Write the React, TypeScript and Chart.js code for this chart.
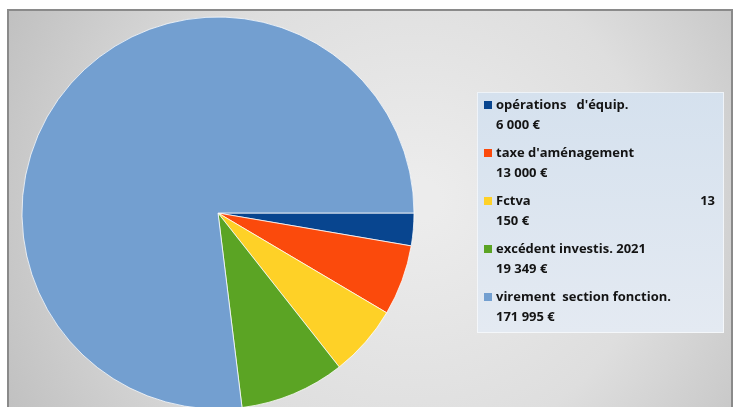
import React, { useEffect, useRef } from "react";
import { Chart, registerables } from "chart.js";

Chart.register(...registerables);

const categories = [
  "opérations   d'équip.",
  "taxe d'aménagement",
  "Fctva",
  "excédent investis. 2021",
  "virement  section fonction.",
];
const amountLabels = ["6 000 €", "13 000 €", "150 €", "19 349 €", "171 995 €"];
const sideLabels = ["", "", "13", "", ""];
const values = [6000, 13000, 13150, 19349, 171995];
const colors = ["#08458f", "#fb4a0c", "#fed127", "#5ba424", "#739fd0"];

const W = 737;
const H = 407;

const framePlugin = {
  id: "frame",
  beforeDraw(chart: any) {
    const ctx = chart.ctx;
    ctx.save();
    ctx.fillStyle = "#ffffff";
    ctx.fillRect(0, 0, W, H);
    const x0 = 8, y0 = 10, x1 = 732, y1 = 412;
    const g = ctx.createRadialGradient(420, 200, 20, 400, 210, 470);
    g.addColorStop(0, "#ececec");
    g.addColorStop(0.5, "#dedede");
    g.addColorStop(1, "#bcbcbc");
    ctx.fillStyle = g;
    ctx.fillRect(x0, y0, x1 - x0, y1 - y0);
    ctx.strokeStyle = "#8a8a8a";
    ctx.lineWidth = 2;
    ctx.strokeRect(x0, y0, x1 - x0, y1 - y0);
    ctx.restore();
  },
};

const legendPlugin = {
  id: "customLegend",
  afterDraw(chart: any) {
    const ctx = chart.ctx;
    ctx.save();
    const bx = 477, by = 92, bw = 247, bh = 241;
    const g = ctx.createLinearGradient(0, by, 0, by + bh);
    g.addColorStop(0, "#d5e1ee");
    g.addColorStop(1, "#e4eaf2");
    ctx.fillStyle = g;
    ctx.fillRect(bx, by, bw, bh);
    ctx.strokeStyle = "rgba(255,255,255,0.6)";
    ctx.lineWidth = 1;
    ctx.strokeRect(bx + 0.5, by + 0.5, bw - 1, bh - 1);
    ctx.font = "bold 13px 'Open Sans'";
    ctx.textBaseline = "middle";
    ctx.textAlign = "left";
    categories.forEach((label, i) => {
      const y = 105 + i * 48;
      ctx.fillStyle = colors[i];
      ctx.fillRect(484, y - 4, 8, 8);
      ctx.fillStyle = "#141414";
      ctx.fillText(label, 496, y);
      ctx.fillText(amountLabels[i], 496, y + 20);
      if (sideLabels[i]) {
        ctx.textAlign = "right";
        ctx.fillText(sideLabels[i], 715, y);
        ctx.textAlign = "left";
      }
    });
    ctx.restore();
  },
};

export default function App() {
  const ref = useRef<HTMLCanvasElement | null>(null);
  useEffect(() => {
    document.body.style.margin = "0";
    const chart = new Chart(ref.current as HTMLCanvasElement, {
      type: "pie",
      data: {
        labels: categories,
        datasets: [
          {
            data: values,
            backgroundColor: colors,
            borderColor: "rgba(255,255,255,0.75)",
            borderWidth: 1,
            radius: 196,
            clip: false,
          } as any,
        ],
      },
      options: {
        responsive: false,
        animation: false,
        rotation: 90,
        layout: { padding: { left: 22, right: 323, top: 19, bottom: 0 } },
        plugins: {
          legend: { display: false },
          tooltip: { enabled: false },
          title: { display: false },
        },
      },
      plugins: [framePlugin, legendPlugin],
    });
    return () => chart.destroy();
  }, []);
  return (
    <div style={{ position: "fixed", left: 0, top: 0, width: W, height: H, overflow: "hidden" }}>
      <canvas ref={ref} width={W} height={H} style={{ width: W, height: H, display: "block" }} />
    </div>
  );
}
